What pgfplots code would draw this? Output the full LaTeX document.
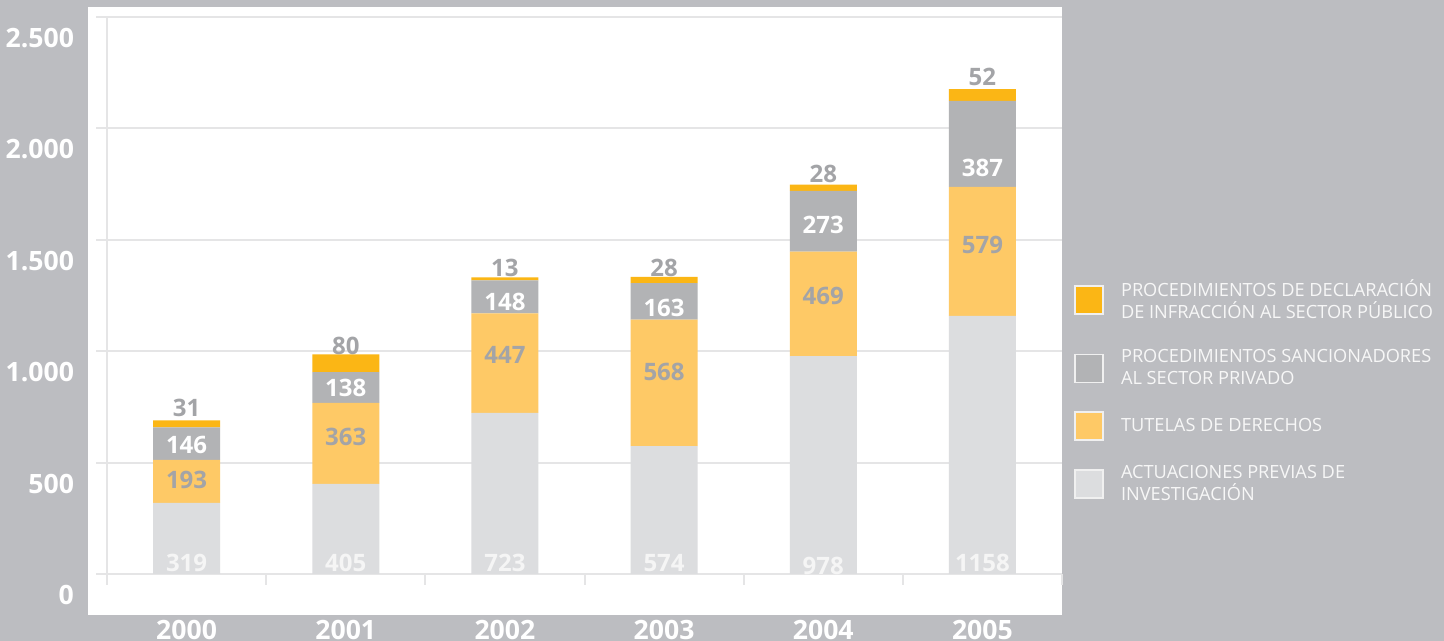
\documentclass[border=0pt]{standalone}
\usepackage{fontspec}
\setmainfont{Open Sans}
\usepackage{pgfplots}
\pgfplotsset{compat=1.18}

\definecolor{bggray}{RGB}{188,189,193}
\definecolor{gridgray}{RGB}{229,229,230}
\definecolor{actgray}{RGB}{220,221,223}
\definecolor{tutorange}{RGB}{254,201,102}
\definecolor{sangray}{RGB}{178,179,181}
\definecolor{decorange}{RGB}{251,182,21}
\definecolor{labgray}{RGB}{163,164,167}

\begin{document}
\begin{tikzpicture}
\useasboundingbox (0,0) rectangle (722pt,320.5pt);
\fill[bggray] (0,0) rectangle (722pt,320.5pt);
\fill[white] (44pt,13pt) rectangle (531pt,317pt);

% stacked bars
\begin{axis}[
  at={(53.5pt,33.5pt)}, anchor=south west,
  scale only axis, width=477.5pt, height=278.5pt,
  ybar stacked, bar width=33.5pt,
  xmin=-0.5, xmax=5.5, ymin=0, ymax=2500,
  axis lines=left,
  axis line style={-, draw=gridgray, line width=1pt},
  ymajorgrids, grid style={draw=gridgray, line width=1pt},
  tick align=outside,
  major tick length=0pt, minor tick length=5.5pt,
  minor tick style={draw=gridgray, line width=1pt},
  ytick={0,500,1000,1500,2000,2500},
  yticklabels={0,500,1.000,1.500,2.000,2.500},
  minor ytick={0,500,1000,1500,2000,2500},
  xtick={0,1,2,3,4,5},
  xticklabels={2000,2001,2002,2003,2004,2005},
  minor xtick={-0.5,0.5,1.5,2.5,3.5,4.5,5.5},
  yticklabel style={font=\bfseries\fontsize{13.3}{14}\selectfont, text=white, xshift=-13pt, yshift=-10.5pt},
  xticklabel style={font=\bfseries\fontsize{13.3}{14}\selectfont, text=white, yshift=-19.5pt},
]
\addplot[fill=actgray, draw=none] coordinates {(0,319) (1,405) (2,723) (3,574) (4,978) (5,1158)};
\addplot[fill=tutorange, draw=none] coordinates {(0,193) (1,363) (2,447) (3,568) (4,469) (5,579)};
\addplot[fill=sangray, draw=none] coordinates {(0,146) (1,138) (2,148) (3,163) (4,273) (5,387)};
\addplot[fill=decorange, draw=none] coordinates {(0,31) (1,80) (2,13) (3,28) (4,28) (5,52)};
\end{axis}

% value labels and legend
\begin{axis}[
  at={(53.5pt,33.5pt)}, anchor=south west,
  scale only axis, width=477.5pt, height=278.5pt,
  xmin=-0.5, xmax=5.5, ymin=0, ymax=2500,
  hide axis, clip=false,
  nodes near coords, point meta=explicit symbolic,
  every node near coord/.append style={anchor=center, inner sep=0pt,
    font=\bfseries\fontsize{12}{12}\selectfont},
  legend style={at={(1.0126,0.537)}, anchor=north west, draw=none, fill=none,
    inner sep=0pt, row sep=10pt,
    font=\fontsize{9.1}{11}\selectfont, text=white!97!black,
    cells={anchor=west, align=left},
    /tikz/every odd column/.append style={column sep=6.5pt}},
  legend image code/.code={\draw[#1, draw=white!88!gray, line width=0.8pt] (0pt,-7pt) rectangle (14pt,7pt);},
]
\addlegendimage{fill=decorange}
\addlegendentry{PROCEDIMIENTOS DE DECLARACIÓN\\DE INFRACCIÓN AL SECTOR PÚBLICO}
\addlegendimage{fill=sangray}
\addlegendentry{PROCEDIMIENTOS SANCIONADORES\\AL SECTOR PRIVADO}
\addlegendimage{fill=tutorange}
\addlegendentry{TUTELAS DE DERECHOS}
\addlegendimage{fill=actgray}
\addlegendentry{ACTUACIONES PREVIAS DE\\INVESTIGACIÓN}

\addplot[draw=none, mark=none, every node near coord/.append style={text=white!96!black}]
  coordinates {(0,49)[319] (1,49)[405] (2,49)[723] (3,49)[574] (4,36)[978] (5,49)[1158]};
\addplot[draw=none, mark=none, every node near coord/.append style={text=labgray}]
  coordinates {(0,422)[193] (1,615)[363] (2,983)[447] (3,907)[568] (4,1248)[469] (5,1477)[579]};
\addplot[draw=none, mark=none, every node near coord/.append style={text=white}]
  coordinates {(0,579)[146] (1,835)[138] (2,1221)[148] (3,1194)[163] (4,1566)[273] (5,1822)[387]};
\addplot[draw=none, mark=none, every node near coord/.append style={text=labgray}]
  coordinates {(0,745)[31] (1,1023)[80] (2,1373)[13] (3,1373)[28] (4,1795)[28] (5,2231)[52]};
\end{axis}
\end{tikzpicture}
\end{document}
